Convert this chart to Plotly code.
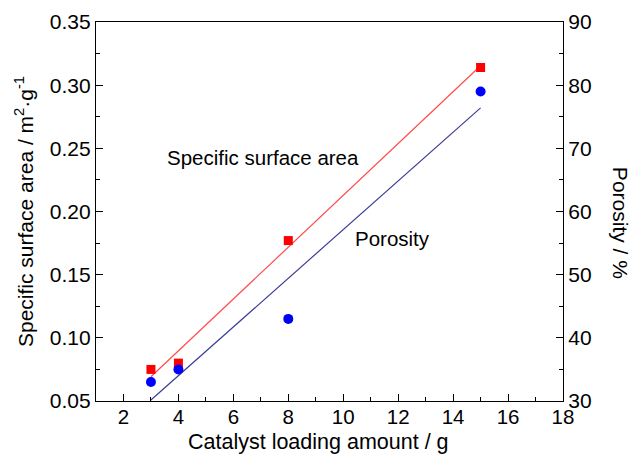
import numpy as np
import plotly.graph_objects as go

loading = [3, 4, 8, 15]
surface_area = [0.075, 0.080, 0.177, 0.314]
porosity = [33, 35, 43, 79]

FONT = "Arial, Liberation Sans, Helvetica, sans-serif"

x = np.array(loading, dtype=float)
sa_fit = np.polyfit(x, surface_area, 1)
po_fit = np.polyfit(x, porosity, 1)
xf = np.array([min(loading), max(loading)], dtype=float)

fig = go.Figure()
fig.add_trace(go.Scatter(x=xf, y=np.polyval(sa_fit, xf), mode="lines",
                         line=dict(color="#ff4a4a", width=1.2), showlegend=False))
fig.add_trace(go.Scatter(x=xf, y=np.polyval(po_fit, xf), mode="lines", yaxis="y2",
                         line=dict(color="#3c3c96", width=1.2), showlegend=False))
fig.add_trace(go.Scatter(x=loading, y=surface_area, mode="markers",
                         marker=dict(symbol="square", size=9, color="#ff0000"), showlegend=False))
fig.add_trace(go.Scatter(x=loading, y=porosity, mode="markers", yaxis="y2",
                         marker=dict(symbol="circle", size=10, color="#0000ff"), showlegend=False))

axcommon = dict(showline=True, linecolor="black", linewidth=1.3, ticks="inside",
                ticklen=7, tickwidth=1.2, tickcolor="black", showgrid=False, zeroline=False,
                automargin=False)

fig.update_layout(
    width=630, height=454,
    margin=dict(l=96, r=67, t=22, b=53),
    paper_bgcolor="white", plot_bgcolor="white",
    font=dict(family=FONT, color="black"),
    xaxis=dict(range=[1, 18], dtick=2, tick0=2, mirror=True, ticklabelstandoff=-3,
               tickfont=dict(family=FONT, size=20.5, color="black"),
               minor=dict(ticks="inside", ticklen=4, dtick=1, tick0=1, tickcolor="black"),
               **axcommon),
    yaxis=dict(range=[0.05, 0.35], dtick=0.05, tick0=0.05, tickformat=".2f",
               tickfont=dict(family=FONT, size=21, color="black"),
               minor=dict(ticks="inside", ticklen=4, dtick=0.025, tick0=0.05, tickcolor="black"),
               title=dict(text="Specific surface area / m<sup>2</sup>·g<sup>-1</sup>",
                          font=dict(family=FONT, size=21), standoff=10),
               **axcommon),
    yaxis2=dict(range=[30, 90], dtick=10, tick0=30, overlaying="y", side="right",
                tickfont=dict(family=FONT, size=21, color="black"),
                minor=dict(ticks="inside", ticklen=4, dtick=5, tick0=30, tickcolor="black"),
                **axcommon),
    annotations=[
        dict(text="Specific surface area", x=3.5, y=0.243, xref="x", yref="y",
             xanchor="left", yanchor="middle", showarrow=False,
             font=dict(family=FONT, size=20.5, color="black")),
        dict(text="Porosity", x=10.37, y=55.8, xref="x", yref="y2",
             xanchor="left", yanchor="middle", showarrow=False,
             font=dict(family=FONT, size=20.5, color="black")),
        dict(text="Catalyst loading amount / g", x=0.5, xshift=-11, y=0, yshift=-41,
             xref="paper", yref="paper", xanchor="center", yanchor="middle", showarrow=False,
             font=dict(family=FONT, size=21.5, color="black")),
        dict(text="Porosity / %", x=1.0, xshift=57, y=0.47, xref="paper", yref="paper",
             xanchor="center", yanchor="middle", textangle=90, showarrow=False,
             font=dict(family=FONT, size=21, color="black")),
    ],
)

fig.write_html("out.html")
